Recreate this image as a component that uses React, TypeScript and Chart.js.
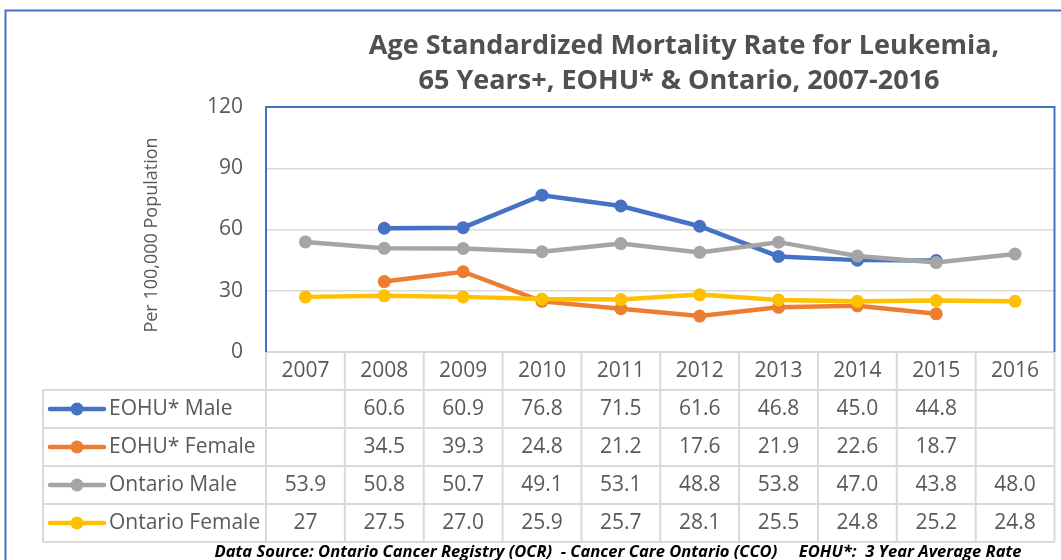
import React, { useEffect, useRef } from "react";
import { Chart, registerables } from "chart.js";

Chart.register(...registerables);

// ---------- data ----------
const years = ["2007", "2008", "2009", "2010", "2011", "2012", "2013", "2014", "2015", "2016"];
const eohuMale = ["", "60.6", "60.9", "76.8", "71.5", "61.6", "46.8", "45.0", "44.8", ""];
const eohuFemale = ["", "34.5", "39.3", "24.8", "21.2", "17.6", "21.9", "22.6", "18.7", ""];
const ontarioMale = ["53.9", "50.8", "50.7", "49.1", "53.1", "48.8", "53.8", "47.0", "43.8", "48.0"];
const ontarioFemale = ["27", "27.5", "27.0", "25.9", "25.7", "28.1", "25.5", "24.8", "25.2", "24.8"];
const seriesNames = ["EOHU* Male", "EOHU* Female", "Ontario Male", "Ontario Female"];
const seriesColors = ["#4472C4", "#ED7D31", "#A5A5A5", "#FFC000"];
const yTicks = [0, 30, 60, 90, 120];
const titleLines = ["Age Standardized Mortality Rate for Leukemia,", "65 Years+, EOHU* & Ontario, 2007-2016"];
const yAxisTitle = "Per 100,000 Population";
const footerText =
  "Data Source: Ontario Cancer Registry (OCR)  - Cancer Care Ontario (CCO)     EOHU*:  3 Year Average Rate";

const seriesText = [eohuMale, eohuFemale, ontarioMale, ontarioFemale];
const toNum = (s: string) => (s === "" ? null : Number(s));

// ---------- layout constants ----------
const W = 1061;
const H = 560;
const FONT = "'Open Sans', 'DejaVu Sans', sans-serif";
const TEXT = "#595959";
const GRID = "#D9D9D9";
const BLUE = "#4472C4";
const rowLines = [352, 390, 428, 466, 504, 542];
const tableLeft = 43;

const decorPlugin = {
  id: "decor",
  afterDraw(chart: any) {
    const ctx: CanvasRenderingContext2D = chart.ctx;
    const area = chart.chartArea;
    const xs = chart.scales.x;
    ctx.save();

    // outer border
    ctx.strokeStyle = BLUE;
    ctx.lineWidth = 2;
    ctx.strokeRect(5.5, 10.5, W + 20, H + 20);

    // title
    ctx.fillStyle = "#505050";
    ctx.font = `bold 27px ${FONT}`;
    ctx.textAlign = "center";
    ctx.textBaseline = "middle";
    ctx.fillText(titleLines[0], 684, 46);
    ctx.fillText(titleLines[1], 679, 81);

    // y axis title
    ctx.save();
    ctx.translate(152, 235);
    ctx.rotate(-Math.PI / 2);
    ctx.font = `18px ${FONT}`;
    ctx.fillStyle = TEXT;
    ctx.fillText(yAxisTitle, 0, 0);
    ctx.restore();

    // table
    const n = years.length;
    const step = (xs.getPixelForValue(n - 1) - xs.getPixelForValue(0)) / (n - 1);
    const colLeft = (i: number) => xs.getPixelForValue(i) - step / 2;
    const right = area.right;

    ctx.strokeStyle = GRID;
    ctx.lineWidth = 2;
    ctx.beginPath();
    ctx.moveTo(area.left, rowLines[0]);
    ctx.lineTo(right, rowLines[0]);
    for (let r = 1; r < rowLines.length; r++) {
      ctx.moveTo(tableLeft, rowLines[r]);
      ctx.lineTo(right, rowLines[r]);
    }
    for (let i = 0; i <= n; i++) {
      const xx = i === n ? right : colLeft(i);
      ctx.moveTo(xx, rowLines[0]);
      ctx.lineTo(xx, rowLines[rowLines.length - 1]);
    }
    ctx.moveTo(tableLeft, rowLines[1]);
    ctx.lineTo(tableLeft, rowLines[rowLines.length - 1]);
    ctx.stroke();

    ctx.font = `21px ${FONT}`;
    ctx.fillStyle = TEXT;
    ctx.textAlign = "center";
    ctx.textBaseline = "middle";
    const rowMid = (r: number) => (rowLines[r] + rowLines[r + 1]) / 2;
    years.forEach((y, i) => ctx.fillText(y, xs.getPixelForValue(i), rowMid(0)));
    seriesText.forEach((arr, s) => {
      const cy = rowMid(s + 1);
      arr.forEach((v, i) => {
        if (v !== "") ctx.fillText(v, xs.getPixelForValue(i), cy);
      });
      // legend key
      ctx.strokeStyle = seriesColors[s];
      ctx.lineWidth = 4.5;
      ctx.lineCap = "round";
      ctx.beginPath();
      ctx.moveTo(50, cy);
      ctx.lineTo(104, cy);
      ctx.stroke();
      ctx.fillStyle = seriesColors[s];
      ctx.beginPath();
      ctx.arc(77, cy, 6.5, 0, Math.PI * 2);
      ctx.fill();
      ctx.fillStyle = TEXT;
      ctx.textAlign = "left";
      ctx.fillText(seriesNames[s], 109, cy);
      ctx.textAlign = "center";
    });

    // plot area border (left, top, right)
    ctx.strokeStyle = BLUE;
    ctx.lineWidth = 2;
    ctx.lineCap = "butt";
    ctx.beginPath();
    ctx.moveTo(area.left, area.bottom);
    ctx.lineTo(area.left, area.top);
    ctx.lineTo(area.right, area.top);
    ctx.lineTo(area.right, area.bottom);
    ctx.stroke();

    // footer
    ctx.save();
    ctx.font = `italic bold 16px ${FONT}`;
    ctx.fillStyle = "#000000";
    const tw = ctx.measureText(footerText).width;
    const target = 807;
    ctx.translate(618, 552);
    ctx.scale(target / tw, 1);
    ctx.textAlign = "center";
    ctx.textBaseline = "middle";
    ctx.fillText(footerText, 0, 0);
    ctx.restore();

    ctx.restore();
  },
};

export default function App() {
  const ref = useRef<HTMLCanvasElement | null>(null);

  useEffect(() => {
    if (!ref.current) return;
    const chart = new Chart(ref.current, {
      type: "line",
      data: {
        labels: years,
        datasets: seriesText.map((arr, s) => ({
          label: seriesNames[s],
          data: arr.map(toNum),
          borderColor: seriesColors[s],
          backgroundColor: seriesColors[s],
          pointBackgroundColor: seriesColors[s],
          pointBorderWidth: 0,
          pointRadius: 6.5,
          borderWidth: 4.5,
          tension: 0,
          order: seriesText.length - s,
        })),
      },
      options: {
        animation: false,
        responsive: false,
        devicePixelRatio: 1,
        layout: { padding: { left: 0, top: 107, right: 3, bottom: H - 352 } },
        plugins: { legend: { display: false }, tooltip: { enabled: false }, title: { display: false } },
        scales: {
          x: { type: "category", display: false, offset: true },
          y: {
            min: 0,
            max: 120,
            afterBuildTicks: (scale: any) => {
              scale.ticks = yTicks.map((v) => ({ value: v }));
            },
            afterFit: (scale: any) => {
              scale.width = 266;
            },
            border: { display: false },
            grid: { color: GRID, lineWidth: 1.5, drawTicks: false },
            ticks: { color: TEXT, font: { family: FONT, size: 21 }, padding: 23 },
          },
        },
      },
      plugins: [decorPlugin],
    });
    return () => chart.destroy();
  }, []);

  return (
    <div style={{ position: "absolute", left: 0, top: 0, width: W, height: H, background: "#fff" }}>
      <canvas ref={ref} width={W} height={H} style={{ width: W, height: H, display: "block" }} />
    </div>
  );
}
